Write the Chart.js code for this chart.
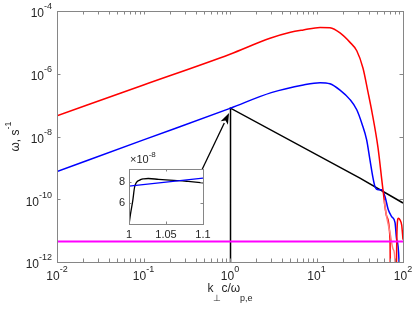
<!DOCTYPE html>
<html>
<head>
<meta charset="utf-8">
<script src="https://cdn.jsdelivr.net/npm/chart.js@4.4.1/dist/chart.umd.min.js"></script>
<style>
  body { margin: 0; background: #fff; }
  #wrap { position: relative; width: 416px; height: 310px; }
  #main { position: absolute; left: 0; top: 0; }
  #inset { position: absolute; left: 100px; top: 150px; }
</style>
</head>
<body>
<div id="wrap">
  <canvas id="main" width="416" height="310"></canvas>
  <canvas id="inset" width="120" height="100"></canvas>
</div>
<script>
// main panel, k_perp c / w_pe  vs  omega (s^-1)
const redK = [0.01, 0.1, 1, 2.9, 5.0, 7.05, 11.0, 14.3, 18.7, 24.4, 29.2, 34.5, 39.4, 43.8, 51.4, 58.7, 64.9, 70.8, 72.1, 81.8, 85.3, 88.3, 92.3, 96.6, 100];
const redW = [4.6e-8, 4.4e-7, 4.2e-6, 1.35e-5, 2.1e-5, 2.5e-5, 3.0e-5, 2.9e-5, 2.0e-5, 1.0e-5, 5.4e-6, 1.5e-6, 2.6e-7, 6.0e-8, 4.4e-9, 2.0e-10, 2.8e-11, 5.1e-12, 1e-14, 1e-14, 1.07e-11, 2.5e-11, 2.2e-11, 1.5e-11, 5.1e-12];

const pinkK = [60.3, 64.7, 70.8, 77.3, 80.9, 81.5];
const pinkW = [9.5e-11, 2.8e-11, 8.5e-12, 2.5e-12, 1.0e-12, 1e-14];

const blueK = [0.01, 0.1, 1, 3.0, 7.05, 11.0, 14.3, 18.7, 24.4, 29.2, 33.6, 38.0, 41.5, 45.0, 47.5, 51.9, 56.8, 62.0, 67.6, 74.0, 80.9, 84.6, 89.9, 91.0];
const blueW = [7.6e-10, 7.8e-9, 7.9e-8, 2.5e-7, 4.4e-7, 5.2e-7, 4.8e-7, 3.0e-7, 1.5e-7, 7.1e-8, 2.5e-8, 7.8e-9, 1.8e-9, 4.8e-10, 2.5e-10, 2.0e-10, 2.0e-10, 1.2e-10, 4.6e-11, 2.8e-11, 1.8e-11, 5.1e-12, 1.05e-12, 1e-14];

const blackK = [1, 1.005, 1.01, 1.026, 31.8, 100];
const blackW = [1e-14, 6.2e-8, 7.7e-8, 8.0e-8, 4.7e-10, 7.6e-11];

const magK = [0.01, 100];
const magW = [4.5e-12, 4.5e-12];

// arrow from inset to the black peak: [k, omega]
const arrowFrom = [0.474, 8.7e-10];
const arrowTo = [0.975, 5.6e-8];

const xTickVals = [0.01, 0.1, 1, 10, 100];
const xTickExp = ["-2", "-1", "0", "1", "2"];
const yTickVals = [1e-12, 1e-10, 1e-8, 1e-6, 1e-4];
const yTickExp = ["-12", "-10", "-8", "-6", "-4"];

// inset (omega in units of 1e-8)
const insetBlackK = [1, 1.002, 1.005, 1.0077, 1.0145, 1.02, 1.026, 1.04, 1.055, 1.068, 1.08, 1.1];
const insetBlackW = [4.0, 5.0, 6.2, 7.54, 8.15, 8.27, 8.3, 8.22, 8.15, 8.1, 8.03, 7.9];
const insetBlueK = [1, 1.1];
const insetBlueW = [7.6, 8.34];
const insetXTicks = [1, 1.05, 1.1];
const insetXLabels = ["1", "1.05", "1.1"];
const insetYTicks = [6, 8];
const insetYLabels = ["6", "8"];

const FONT = "'Liberation Sans', Arial, Helvetica, sans-serif";
const TXT = "#262626";
const AX = "#868686";

function pts(xs, ys) {
  return xs.map((v, i) => ({ x: v, y: ys[i] }));
}

function line(data, color, width, smooth) {
  const ds = { data, borderColor: color, borderWidth: width, pointRadius: 0, fill: false, tension: 0 };
  if (smooth) ds.cubicInterpolationMode = "monotone";
  return ds;
}

function pow10(ctx, exp, x, y, align, big, small) {
  ctx.font = big + "px " + FONT;
  const wb = ctx.measureText("10").width;
  ctx.font = small + "px " + FONT;
  const ws = ctx.measureText(exp).width;
  const x0 = align === "right" ? x - wb - ws : x - (wb + ws) / 2;
  ctx.textAlign = "left";
  ctx.textBaseline = "middle";
  ctx.font = big + "px " + FONT;
  ctx.fillText("10", x0, y);
  ctx.font = small + "px " + FONT;
  ctx.fillText(exp, x0 + wb, y - 7);
}

const mainDecor = {
  id: "mainDecor",
  afterDatasetsDraw(chart) {
    const { ctx, chartArea: a, scales: { x, y } } = chart;
    ctx.save();

    // arrow
    const x1 = x.getPixelForValue(arrowFrom[0]), y1 = y.getPixelForValue(arrowFrom[1]);
    const x2 = x.getPixelForValue(arrowTo[0]), y2 = y.getPixelForValue(arrowTo[1]);
    const ang = Math.atan2(y2 - y1, x2 - x1);
    const hl = 11, hw = 4;
    ctx.strokeStyle = "#000";
    ctx.fillStyle = "#000";
    ctx.lineWidth = 1.3;
    ctx.beginPath();
    ctx.moveTo(x1, y1);
    ctx.lineTo(x2 - hl * Math.cos(ang), y2 - hl * Math.sin(ang));
    ctx.stroke();
    ctx.beginPath();
    ctx.moveTo(x2, y2);
    ctx.lineTo(x2 - hl * Math.cos(ang) + hw * Math.sin(ang), y2 - hl * Math.sin(ang) - hw * Math.cos(ang));
    ctx.lineTo(x2 - hl * 0.75 * Math.cos(ang), y2 - hl * 0.75 * Math.sin(ang));
    ctx.lineTo(x2 - hl * Math.cos(ang) - hw * Math.sin(ang), y2 - hl * Math.sin(ang) + hw * Math.cos(ang));
    ctx.closePath();
    ctx.fill();

    // box
    ctx.strokeStyle = AX;
    ctx.lineWidth = 1;
    ctx.strokeRect(a.left + 0.5, a.top + 0.5, a.right - a.left, a.bottom - a.top);

    // ticks, pointing inward on all four sides
    const tl = 3.5;
    ctx.beginPath();
    const xAll = [];
    xTickVals.forEach((v, i) => {
      xAll.push(v);
      if (i < xTickVals.length - 1) for (let m = 2; m <= 9; m++) xAll.push(v * m);
    });
    xAll.forEach(v => {
      const px = Math.round(x.getPixelForValue(v)) + 0.5;
      ctx.moveTo(px, a.bottom); ctx.lineTo(px, a.bottom - tl);
      ctx.moveTo(px, a.top); ctx.lineTo(px, a.top + tl);
    });
    yTickVals.forEach(v => {
      const py = Math.round(y.getPixelForValue(v)) + 0.5;
      ctx.moveTo(a.left, py); ctx.lineTo(a.left + tl, py);
      ctx.moveTo(a.right, py); ctx.lineTo(a.right - tl, py);
    });
    ctx.stroke();

    // tick labels
    ctx.fillStyle = TXT;
    xTickVals.forEach((v, i) => {
      pow10(ctx, xTickExp[i], x.getPixelForValue(v), a.bottom + 15, "center", 12, 9);
    });
    yTickVals.forEach((v, i) => {
      pow10(ctx, yTickExp[i], a.left - 5, y.getPixelForValue(v) + 3, "right", 12, 9);
    });

    // x title: k_perp c / omega_p,e
    const parts = [["k", 0], ["\u22A5", 1], ["c/\u03C9", 0], ["p,e", 1]];
    let tw = 0;
    parts.forEach(p => {
      ctx.font = (p[1] ? 9 : 12) + "px " + FONT;
      tw += ctx.measureText(p[0]).width;
    });
    let cx = (a.left + a.right) / 2 - tw / 2;
    ctx.textAlign = "left";
    ctx.textBaseline = "middle";
    parts.forEach(p => {
      ctx.font = (p[1] ? 9 : 12) + "px " + FONT;
      ctx.fillText(p[0], cx, p[1] ? 299 : 289);
      cx += ctx.measureText(p[0]).width;
    });

    // y title: omega, s^-1
    ctx.translate(16, (a.top + a.bottom) / 2);
    ctx.rotate(-Math.PI / 2);
    ctx.font = "12px " + FONT;
    const t1 = "\u03C9, s";
    const w1 = ctx.measureText(t1).width;
    ctx.font = "9px " + FONT;
    const w2 = ctx.measureText("-1").width;
    const sx = -(w1 + w2) / 2;
    ctx.font = "12px " + FONT;
    ctx.fillText(t1, sx, 0);
    ctx.font = "9px " + FONT;
    ctx.fillText("-1", sx + w1, -7);
    ctx.restore();
  }
};

new Chart(document.getElementById("main"), {
  type: "line",
  data: {
    datasets: [
      line(pts(magK, magW), "#ff00ff", 2),
      line(pts(pinkK, pinkW), "#ff8080", 1.5, true),
      line(pts(redK, redW), "#ff0000", 1.5, true),
      line(pts(blueK, blueW), "#0000ff", 1.5, true),
      line(pts(blackK, blackW), "#000000", 1.5),
    ],
  },
  options: {
    responsive: false,
    animation: false,
    layout: { padding: { left: 57, right: 13, top: 11, bottom: 48 } },
    plugins: { legend: { display: false }, tooltip: { enabled: false } },
    scales: {
      x: { type: "logarithmic", min: 0.01, max: 100, display: false },
      y: { type: "logarithmic", min: 1e-12, max: 1e-4, display: false },
    },
  },
  plugins: [mainDecor],
});

const insetDecor = {
  id: "insetDecor",
  beforeDatasetsDraw(chart) {
    const { ctx, chartArea: a } = chart;
    ctx.save();
    ctx.fillStyle = "#fff";
    ctx.fillRect(a.left, a.top, a.right - a.left, a.bottom - a.top);
    ctx.restore();
  },
  afterDatasetsDraw(chart) {
    const { ctx, chartArea: a, scales: { x, y } } = chart;
    ctx.save();
    ctx.strokeStyle = AX;
    ctx.lineWidth = 1;
    ctx.strokeRect(a.left + 0.5, a.top + 0.5, a.right - a.left, a.bottom - a.top);
    const tl = 2.5;
    ctx.beginPath();
    insetXTicks.forEach(v => {
      const px = Math.round(x.getPixelForValue(v)) + 0.5;
      ctx.moveTo(px, a.bottom); ctx.lineTo(px, a.bottom - tl);
      ctx.moveTo(px, a.top); ctx.lineTo(px, a.top + tl);
    });
    insetYTicks.forEach(v => {
      const py = Math.round(y.getPixelForValue(v)) + 0.5;
      ctx.moveTo(a.left, py); ctx.lineTo(a.left + tl, py);
      ctx.moveTo(a.right, py); ctx.lineTo(a.right - tl, py);
    });
    ctx.stroke();

    ctx.fillStyle = TXT;
    ctx.font = "11px " + FONT;
    ctx.textBaseline = "middle";
    ctx.textAlign = "center";
    insetXTicks.forEach((v, i) => ctx.fillText(insetXLabels[i], x.getPixelForValue(v), a.bottom + 11));
    ctx.textAlign = "right";
    insetYTicks.forEach((v, i) => ctx.fillText(insetYLabels[i], a.left - 4, y.getPixelForValue(v)));

    // exponent label
    ctx.textAlign = "left";
    ctx.font = "11px " + FONT;
    const t = "\u00D710";
    const w = ctx.measureText(t).width;
    ctx.fillText(t, a.left + 1, a.top - 9);
    ctx.font = "8px " + FONT;
    ctx.fillText("-8", a.left + 1 + w, a.top - 14);
    ctx.restore();
  }
};

new Chart(document.getElementById("inset"), {
  type: "line",
  data: {
    datasets: [
      line(pts(insetBlueK, insetBlueW), "#0000ff", 1.3),
      line(pts(insetBlackK, insetBlackW), "#000000", 1.3, true),
    ],
  },
  options: {
    responsive: false,
    animation: false,
    layout: { padding: { left: 29, right: 17, top: 19, bottom: 26 } },
    plugins: { legend: { display: false }, tooltip: { enabled: false } },
    scales: {
      x: { type: "linear", min: 1, max: 1.1, display: false },
      y: { type: "linear", min: 4.08, max: 9.18, display: false },
    },
  },
  plugins: [insetDecor],
});
</script>
</body>
</html>
